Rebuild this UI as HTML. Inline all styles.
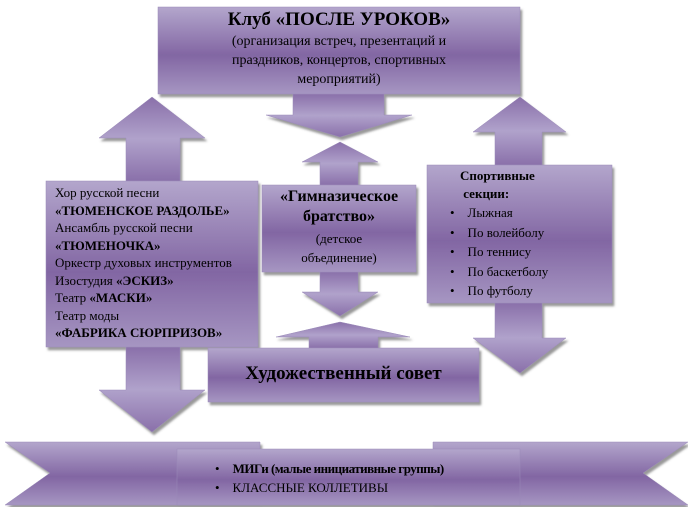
<!DOCTYPE html>
<html><head><meta charset="utf-8"><style>
body{margin:0;width:688px;height:507px;background:#fff;position:relative;overflow:hidden;font-family:"Liberation Serif",serif;color:#000}
svg{position:absolute;left:0;top:0}
.t{position:absolute;font-size:13px;line-height:18px}
b{font-weight:bold}
</style></head><body>
<svg width="688" height="507">
<defs>
<linearGradient id="g" x1="0" y1="0" x2="0" y2="1">
<stop offset="0" stop-color="#b3a6cc"/><stop offset="0.55" stop-color="#8266a3"/><stop offset="1" stop-color="#a696c2"/></linearGradient>
<linearGradient id="h" x1="0" y1="0" x2="0" y2="1">
<stop offset="0" stop-color="#8a70aa"/><stop offset="0.5" stop-color="#b0a2cb"/><stop offset="1" stop-color="#8a70aa"/></linearGradient>
<filter id="s"><feDropShadow dx="2" dy="3" stdDeviation="1" flood-color="#555" flood-opacity="0.6"/></filter>
</defs>
<g filter="url(#s)" stroke="#9a8ab8" stroke-width="0.5">
<!-- arrows -->
<polygon fill="url(#h)" points="293,94 384,94 384,115 412,115 340,137 266,115 293,115"/>
<polygon fill="url(#h)" points="152,97 205,138 180,138 180,181 126,181 126,138 99,138"/>
<polygon fill="url(#h)" points="126,347 180,347 180,390 205,390 152,432 99,390 126,390"/>
<polygon fill="url(#h)" points="340,142 378,162 358,162 358,185 320,185 320,162 302,162"/>
<polygon fill="url(#h)" points="320,272 358,272 358,292 378,292 340,316 302,292 320,292"/>
<polygon fill="url(#h)" points="340,322 410,337 378,337 378,348 309,348 309,337 276,337"/>
<polygon fill="url(#h)" points="520,97 566,132 542,132 542,165 495,165 495,132 473,132"/>
<polygon fill="url(#h)" points="495,303 542,303 542,338 566,338 520,373 473,338 495,338"/>
<!-- ribbon wings -->
<polygon fill="url(#g)" points="5,442 260,442 260,505 5,505 50,473"/>
<polygon fill="url(#g)" points="433,442 688,442 643,473 688,505 433,505"/>
<!-- boxes -->
<rect x="158" y="7" width="362" height="87" fill="url(#g)"/>
<rect x="46" y="181" width="212" height="166" fill="url(#g)"/>
<rect x="262" y="185" width="154" height="87" fill="url(#g)"/>
<rect x="427" y="165" width="185" height="138" fill="url(#g)"/>
<rect x="208" y="348" width="271" height="54" fill="url(#g)"/>
<rect x="177" y="449" width="343" height="56" fill="url(#g)"/>
</g>
</svg>
<div class="t" style="left:158px;top:9px;width:362px;text-align:center;font-size:19px;line-height:22px"><b>Клуб «ПОСЛЕ УРОКОВ»</b></div>
<div class="t" style="left:158px;top:32px;width:362px;text-align:center;font-size:14px;line-height:19px">(организация встреч, презентаций и<br>праздников, концертов, спортивных<br>мероприятий)</div>
<div class="t" style="left:55px;top:184px;font-size:13px;line-height:17.5px;white-space:nowrap">Хор русской песни<br><b>«ТЮМЕНСКОЕ РАЗДОЛЬЕ»</b><br>Ансамбль русской песни<br><b>«ТЮМЕНОЧКА»</b><br>Оркестр духовых инструментов<br>Изостудия <b>«ЭСКИЗ»</b><br>Театр <b>«МАСКИ»</b><br>Театр моды<br><b>«ФАБРИКА СЮРПРИЗОВ»</b></div>
<div class="t" style="left:262px;top:187px;width:154px;text-align:center;font-size:16px;line-height:20px"><b>«Гимназическое<br>братство»</b></div>
<div class="t" style="left:262px;top:229px;width:154px;text-align:center;font-size:13px;line-height:19px">(детское<br>объединение)</div>
<div class="t" style="left:460px;top:167px;font-size:13px;line-height:18px"><b>Спортивные<br>&nbsp;секции:</b></div>
<div class="t" style="left:450px;top:203px;font-size:13px;line-height:19.5px;white-space:nowrap">•&nbsp;&nbsp;&nbsp;&nbsp;Лыжная<br>•&nbsp;&nbsp;&nbsp;&nbsp;По волейболу<br>•&nbsp;&nbsp;&nbsp;&nbsp;По теннису<br>•&nbsp;&nbsp;&nbsp;&nbsp;По баскетболу<br>•&nbsp;&nbsp;&nbsp;&nbsp;По футболу</div>
<div class="t" style="left:208px;top:362px;width:271px;text-align:center;font-size:19px;line-height:24px"><b>Художественный совет</b></div>
<div class="t" style="left:215px;top:459px;font-size:13px;line-height:19px;white-space:nowrap">•&nbsp;&nbsp;&nbsp;&nbsp;<b style="letter-spacing:-0.5px">МИГи (малые инициативные группы)</b><br>•&nbsp;&nbsp;&nbsp;&nbsp;КЛАССНЫЕ КОЛЛЕТИВЫ</div>
</body></html>
